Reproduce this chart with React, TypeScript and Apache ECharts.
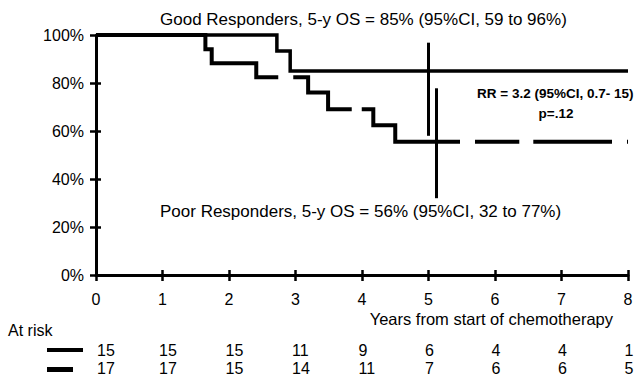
import React, { useEffect, useRef } from "react";
import * as echarts from "echarts";

// ---- data ----
const xTicks = [0, 1, 2, 3, 4, 5, 6, 7, 8];
const goodTimes = [0, 2.72, 2.92, 8];
const goodSurv = [100, 93.3, 85, 85];
const poorTimes = [0, 1.645, 1.74, 2.41, 3.19, 3.49, 4.17, 4.5, 8];
const poorSurv = [100, 94.1, 88.2, 82.4, 76.0, 69.1, 62.4, 55.5, 55.5];
const goodCITime = 5.0;
const goodCIRange = [58, 96.8];
const poorCITime = 5.12;
const poorCIRange = [32, 77.8];
const goodAtRisk = [15, 15, 15, 11, 9, 6, 4, 4, 1];
const poorAtRisk = [17, 17, 15, 14, 11, 7, 6, 6, 5];
const titleGood = "Good Responders, 5-y OS = 85% (95%CI, 59 to 96%)";
const titlePoor = "Poor Responders, 5-y OS = 56% (95%CI, 32 to 77%)";
const rrText = "RR = 3.2 (95%CI, 0.7- 15)";
const pText = "p=.12";
const xName = "Years from start of chemotherapy";
const atRiskLabel = "At risk";

// dash pattern of the poor-responder curve (style)
const poorDash = [224.5, 15, 90.4, 10, 130.9, 15, 44.3, 14, 78.7, 15, 12];

const FONT = '"Liberation Sans", Arial, Helvetica, sans-serif';

export default function App() {
  const ref = useRef<HTMLDivElement>(null);
  useEffect(() => {
    if (!ref.current) return;
    const chart = echarts.init(ref.current, undefined, { renderer: "svg" });
    const axisCommon = {
      type: "value",
      splitLine: { show: false },
    };
    const option: any = {
      animation: false,
      backgroundColor: "#ffffff",
      grid: { left: 96, right: 12, top: 35, bottom: 103, containLabel: false, outerBoundsMode: "none" },
      xAxis: [
        {
          ...axisCommon,
          min: 0,
          max: 8,
          interval: 1,
          position: "bottom",
          axisLine: { show: true, onZero: false, lineStyle: { color: "#000", width: 3 } },
          axisTick: { show: true, inside: false, length: 6, lineStyle: { color: "#000", width: 2.5 } },
          axisLabel: { show: true, margin: 16, color: "#000", fontSize: 16, fontFamily: FONT },
        },
        {
          ...axisCommon,
          min: 0,
          max: 8,
          interval: 1,
          position: "bottom",
          axisLine: { show: false },
          axisTick: { show: true, inside: true, length: 5, lineStyle: { color: "#000", width: 2.5 } },
          axisLabel: { show: false },
        },
      ],
      yAxis: [
        {
          ...axisCommon,
          min: 0,
          max: 100,
          interval: 20,
          position: "left",
          axisLine: { show: true, onZero: false, lineStyle: { color: "#000", width: 3 } },
          axisTick: { show: true, inside: false, length: 6, lineStyle: { color: "#000", width: 2.5 } },
          axisLabel: { show: true, margin: 12, color: "#000", fontSize: 16, fontFamily: FONT, formatter: "{value}%" },
        },
        {
          ...axisCommon,
          min: 0,
          max: 100,
          interval: 20,
          position: "left",
          axisLine: { show: false },
          axisTick: { show: true, inside: true, length: 5, lineStyle: { color: "#000", width: 2.5 } },
          axisLabel: { show: false },
        },
      ],
      series: [
        {
          type: "line",
          step: "end",
          symbol: "none",
          clip: false,
          data: poorTimes.map((t, i) => [t, poorSurv[i]]),
          lineStyle: { color: "#000", width: 4, type: poorDash, cap: "butt", join: "miter" },
        },
        {
          type: "line",
          step: "end",
          symbol: "none",
          clip: false,
          data: goodTimes.map((t, i) => [t, goodSurv[i]]),
          lineStyle: { color: "#000", width: 3.5, join: "miter" },
        },
        {
          type: "line",
          symbol: "none",
          clip: false,
          data: goodCIRange.map((v) => [goodCITime, v]),
          lineStyle: { color: "#000", width: 3 },
        },
        {
          type: "line",
          symbol: "none",
          clip: false,
          data: poorCIRange.map((v) => [poorCITime, v]),
          lineStyle: { color: "#000", width: 3 },
        },
      ],
    };
    chart.setOption(option);

    const txt = (text: string, x: number, y: number, size: number, align: string, bold = false) => ({
      type: "text",
      x,
      y,
      style: {
        text,
        fill: "#000",
        fontSize: size,
        fontFamily: FONT,
        fontWeight: bold ? "bold" : "normal",
        align,
        verticalAlign: "middle",
        textAlign: align,
        textVerticalAlign: "middle",
      },
    });

    const graphics: any[] = [
      txt(titleGood, 160, 19, 17, "left"),
      txt(titlePoor, 160, 211, 17, "left"),
      txt(rrText, 477, 93, 13.5, "left", true),
      txt(pText, 556, 113, 13.5, "center", true),
      txt(xName, 613, 319, 16.5, "right"),
      txt(atRiskLabel, 8, 330, 16, "left"),
      {
        type: "line",
        shape: { x1: 47, y1: 350, x2: 83, y2: 350 },
        style: { stroke: "#000", lineWidth: 4 },
      },
      {
        type: "line",
        shape: { x1: 47, y1: 369.5, x2: 73, y2: 369.5 },
        style: { stroke: "#000", lineWidth: 5 },
      },
    ];
    xTicks.forEach((t, i) => {
      const px = chart.convertToPixel({ xAxisIndex: 0 }, t) as number;
      const lx = i === 0 ? px + 1 : px - 3.5;
      graphics.push(txt(String(goodAtRisk[i]), lx, 350, 16, "left"));
      graphics.push(txt(String(poorAtRisk[i]), lx, 368.5, 16, "left"));
    });
    chart.setOption({ graphic: graphics });

    return () => chart.dispose();
  }, []);
  return (
    <div
      ref={ref}
      style={{ position: "fixed", left: 0, top: 0, width: 640, height: 378, background: "#fff" }}
    />
  );
}
